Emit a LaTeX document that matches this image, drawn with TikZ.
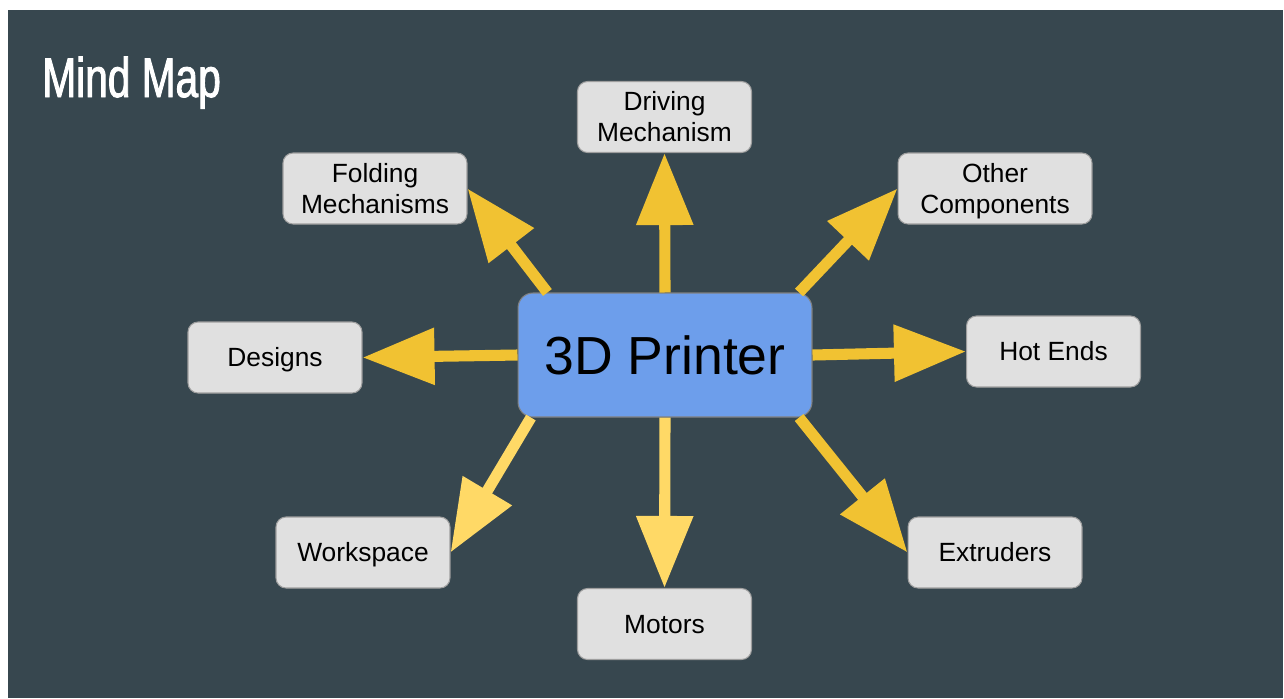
\documentclass[tikz,border=0pt]{standalone}
\usepackage{fontspec}
\setmainfont{Liberation Sans}
\newfontfamily\titlefont[FakeStretch=0.73, FakeBold=1.6]{Liberation Sans}
\usepackage{tikz}
\usetikzlibrary{arrows.meta, positioning}

\definecolor{slidebg}{HTML}{37474F}
\definecolor{leafgrey}{HTML}{E0E0E0}
\definecolor{leafline}{HTML}{9E9E9E}
\definecolor{hubblue}{HTML}{6D9EEB}
\definecolor{arrowgold}{HTML}{F1C232}
\definecolor{arrowlight}{HTML}{FFD966}

\tikzstyle{leaf} = [
  rectangle, rounded corners=5.7pt, draw=leafline, line width=0.6pt,
  fill=leafgrey, text=black, align=center,
  minimum width=3.48cm, minimum height=1.42cm, inner sep=2pt,
  text height=10.7pt, text depth=0pt,
  font=\fontsize{15}{17.6}\selectfont
]
\tikzstyle{twoline} = [leaf, text height=28.3pt]
\tikzstyle{hub} = [
  rectangle, rounded corners=8.5pt, draw=gray, line width=0.6pt,
  fill=hubblue, text=black, minimum width=5.88cm, minimum height=2.48cm,
  text height=21.8pt, text depth=0pt,
  font=\fontsize{30.5}{34}\selectfont
]
\tikzstyle{arrow} = [-{Triangle[length=41pt, width=31pt]}, line width=6.3pt, arrowgold]
\tikzstyle{lightarrow} = [arrow, arrowlight]

\begin{document}
\begin{tikzpicture}[x=0.02cm, y=-0.02cm]

  \useasboundingbox (0, 0) rectangle (1284, 698);
  \fill[white] (0, 0) rectangle (1284, 698);
  \fill[slidebg] (8, 10) rectangle (1283, 698);

  \node[anchor=base west, text=white, inner sep=0pt,
        font=\titlefont\fontsize{31.7}{34}\selectfont] (title) at (42, 97) {Mind Map};

  \node[hub] (printer) at (665, 355) {3D Printer};

  \node[twoline] (driving) at (664.5, 117) {Driving\\Mechanism};
  \node[twoline, minimum width=3.68cm] (folding) at (375, 188.5) {Folding\\Mechanisms};
  \node[twoline, minimum width=3.88cm] (other) at (995, 188.5) {Other\\Components};
  \node[leaf] (designs) at (275, 357.5) {Designs};
  \node[leaf] (hotends) at (1053.5, 351.5) {Hot Ends};
  \node[leaf] (workspace) at (363, 552.5) {Workspace};
  \node[leaf] (extruders) at (995, 552.5) {Extruders};
  \node[leaf] (motors) at (664.5, 624) {Motors};

  % spokes from the hub
  \draw[arrow] (printer.north) -- (driving.south);
  \draw[arrow] (printer.152) -- (folding.east);
  \draw[arrow] (printer.25) -- (other.west);
  \draw[arrow] (printer.west) -- (designs.east);
  \draw[arrow] (printer.east) -- (hotends.west);
  \draw[lightarrow] (printer.205) -- (workspace.east);
  \draw[arrow] (printer.335) -- (extruders.west);
  \draw[lightarrow] (printer.south) -- (motors.north);

\end{tikzpicture}
\end{document}
